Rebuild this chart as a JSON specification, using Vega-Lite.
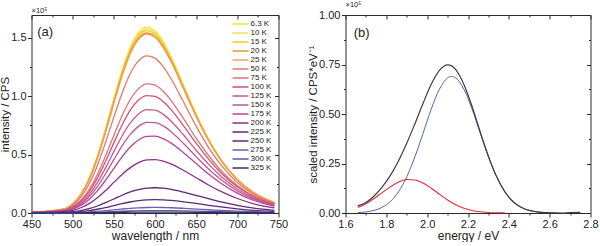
{
"$schema":"https://vega.github.io/schema/vega-lite/v6.json",
"padding":{"left":-1.5,"top":0,"right":0,"bottom":0},
"spacing":67,
"bounds":"flush",
"resolve":{"scale":{"color":"independent","strokeWidth":"independent"},"legend":{"color":"independent","strokeWidth":"independent"}},
"config":{
"font":"Liberation Sans",
"view":{"stroke":"#2a2a2a","strokeWidth":1},
"axis":{"grid":false,"domain":false,"tickColor":"#2a2a2a","tickWidth":1,"labelColor":"#222","titleColor":"#222","labelFontSize":11,"titleFontSize":11.5,"titleFontWeight":"normal","labelFont":"Liberation Sans","titleFont":"Liberation Sans","labelPadding":1.5,"titlePadding":0,"labelOverlap":false,"labelFlush":false},
"axisX":{"titlePadding":1,"titleFontSize":12},
"title":{"fontSize":7.5,"fontWeight":"normal","anchor":"start","offset":0.01,"color":"#222","font":"Liberation Sans"},
"legend":{"labelFont":"Liberation Sans"}
},
"datasets":{
"a":[
{"T":"6.3 K","w":450,"v":0.005},{"T":"6.3 K","w":490,"v":0.036},{"T":"6.3 K","w":500,"v":0.079},{"T":"6.3 K","w":510,"v":0.162},{"T":"6.3 K","w":520,"v":0.297},{"T":"6.3 K","w":530,"v":0.487},{"T":"6.3 K","w":540,"v":0.722},{"T":"6.3 K","w":550,"v":0.978},{"T":"6.3 K","w":560,"v":1.221},{"T":"6.3 K","w":570,"v":1.418},{"T":"6.3 K","w":580,"v":1.544},{"T":"6.3 K","w":590,"v":1.590},{"T":"6.3 K","w":600,"v":1.559},{"T":"6.3 K","w":610,"v":1.466},{"T":"6.3 K","w":620,"v":1.330},{"T":"6.3 K","w":635,"v":1.089},{"T":"6.3 K","w":650,"v":0.847},{"T":"6.3 K","w":665,"v":0.633},{"T":"6.3 K","w":680,"v":0.459},{"T":"6.3 K","w":700,"v":0.287},{"T":"6.3 K","w":720,"v":0.173},{"T":"6.3 K","w":745,"v":0.088},
{"T":"10 K","w":450,"v":0.005},{"T":"10 K","w":490,"v":0.035},{"T":"10 K","w":500,"v":0.078},{"T":"10 K","w":510,"v":0.160},{"T":"10 K","w":520,"v":0.294},{"T":"10 K","w":530,"v":0.482},{"T":"10 K","w":540,"v":0.715},{"T":"10 K","w":550,"v":0.968},{"T":"10 K","w":560,"v":1.209},{"T":"10 K","w":570,"v":1.404},{"T":"10 K","w":580,"v":1.529},{"T":"10 K","w":590,"v":1.575},{"T":"10 K","w":600,"v":1.545},{"T":"10 K","w":610,"v":1.453},{"T":"10 K","w":620,"v":1.319},{"T":"10 K","w":635,"v":1.081},{"T":"10 K","w":650,"v":0.841},{"T":"10 K","w":665,"v":0.630},{"T":"10 K","w":680,"v":0.457},{"T":"10 K","w":700,"v":0.286},{"T":"10 K","w":720,"v":0.173},{"T":"10 K","w":745,"v":0.088},
{"T":"15 K","w":450,"v":0.005},{"T":"15 K","w":490,"v":0.035},{"T":"15 K","w":500,"v":0.078},{"T":"15 K","w":510,"v":0.159},{"T":"15 K","w":520,"v":0.291},{"T":"15 K","w":530,"v":0.477},{"T":"15 K","w":540,"v":0.707},{"T":"15 K","w":550,"v":0.958},{"T":"15 K","w":560,"v":1.197},{"T":"15 K","w":570,"v":1.390},{"T":"15 K","w":580,"v":1.515},{"T":"15 K","w":590,"v":1.560},{"T":"15 K","w":600,"v":1.531},{"T":"15 K","w":610,"v":1.440},{"T":"15 K","w":620,"v":1.308},{"T":"15 K","w":635,"v":1.073},{"T":"15 K","w":650,"v":0.836},{"T":"15 K","w":665,"v":0.627},{"T":"15 K","w":680,"v":0.455},{"T":"15 K","w":700,"v":0.286},{"T":"15 K","w":720,"v":0.172},{"T":"15 K","w":745,"v":0.088},
{"T":"20 K","w":450,"v":0.005},{"T":"20 K","w":490,"v":0.034},{"T":"20 K","w":500,"v":0.077},{"T":"20 K","w":510,"v":0.157},{"T":"20 K","w":520,"v":0.286},{"T":"20 K","w":530,"v":0.470},{"T":"20 K","w":540,"v":0.697},{"T":"20 K","w":550,"v":0.945},{"T":"20 K","w":560,"v":1.181},{"T":"20 K","w":570,"v":1.371},{"T":"20 K","w":580,"v":1.495},{"T":"20 K","w":590,"v":1.540},{"T":"20 K","w":600,"v":1.512},{"T":"20 K","w":610,"v":1.424},{"T":"20 K","w":620,"v":1.294},{"T":"20 K","w":635,"v":1.063},{"T":"20 K","w":650,"v":0.829},{"T":"20 K","w":665,"v":0.622},{"T":"20 K","w":680,"v":0.452},{"T":"20 K","w":700,"v":0.284},{"T":"20 K","w":720,"v":0.172},{"T":"20 K","w":745,"v":0.088},
{"T":"25 K","w":450,"v":0.005},{"T":"25 K","w":490,"v":0.034},{"T":"25 K","w":500,"v":0.076},{"T":"25 K","w":510,"v":0.155},{"T":"25 K","w":520,"v":0.284},{"T":"25 K","w":530,"v":0.467},{"T":"25 K","w":540,"v":0.692},{"T":"25 K","w":550,"v":0.938},{"T":"25 K","w":560,"v":1.172},{"T":"25 K","w":570,"v":1.362},{"T":"25 K","w":580,"v":1.485},{"T":"25 K","w":590,"v":1.530},{"T":"25 K","w":600,"v":1.503},{"T":"25 K","w":610,"v":1.415},{"T":"25 K","w":620,"v":1.287},{"T":"25 K","w":635,"v":1.057},{"T":"25 K","w":650,"v":0.825},{"T":"25 K","w":665,"v":0.620},{"T":"25 K","w":680,"v":0.451},{"T":"25 K","w":700,"v":0.284},{"T":"25 K","w":720,"v":0.172},{"T":"25 K","w":745,"v":0.087},
{"T":"50 K","w":450,"v":0.005},{"T":"50 K","w":490,"v":0.030},{"T":"50 K","w":500,"v":0.067},{"T":"50 K","w":510,"v":0.136},{"T":"50 K","w":520,"v":0.248},{"T":"50 K","w":530,"v":0.407},{"T":"50 K","w":540,"v":0.605},{"T":"50 K","w":550,"v":0.820},{"T":"50 K","w":560,"v":1.025},{"T":"50 K","w":570,"v":1.193},{"T":"50 K","w":580,"v":1.302},{"T":"50 K","w":590,"v":1.345},{"T":"50 K","w":600,"v":1.325},{"T":"50 K","w":610,"v":1.252},{"T":"50 K","w":620,"v":1.142},{"T":"50 K","w":635,"v":0.945},{"T":"50 K","w":650,"v":0.743},{"T":"50 K","w":665,"v":0.562},{"T":"50 K","w":680,"v":0.412},{"T":"50 K","w":700,"v":0.261},{"T":"50 K","w":720,"v":0.159},{"T":"50 K","w":745,"v":0.082},
{"T":"75 K","w":450,"v":0.005},{"T":"75 K","w":490,"v":0.026},{"T":"75 K","w":500,"v":0.055},{"T":"75 K","w":510,"v":0.110},{"T":"75 K","w":520,"v":0.201},{"T":"75 K","w":530,"v":0.330},{"T":"75 K","w":540,"v":0.489},{"T":"75 K","w":550,"v":0.664},{"T":"75 K","w":560,"v":0.832},{"T":"75 K","w":570,"v":0.971},{"T":"75 K","w":580,"v":1.064},{"T":"75 K","w":590,"v":1.105},{"T":"75 K","w":600,"v":1.094},{"T":"75 K","w":610,"v":1.041},{"T":"75 K","w":620,"v":0.958},{"T":"75 K","w":635,"v":0.803},{"T":"75 K","w":650,"v":0.640},{"T":"75 K","w":665,"v":0.492},{"T":"75 K","w":680,"v":0.365},{"T":"75 K","w":700,"v":0.236},{"T":"75 K","w":720,"v":0.145},{"T":"75 K","w":745,"v":0.076},
{"T":"100 K","w":450,"v":0.005},{"T":"100 K","w":490,"v":0.023},{"T":"100 K","w":500,"v":0.050},{"T":"100 K","w":510,"v":0.100},{"T":"100 K","w":520,"v":0.182},{"T":"100 K","w":530,"v":0.298},{"T":"100 K","w":540,"v":0.442},{"T":"100 K","w":550,"v":0.600},{"T":"100 K","w":560,"v":0.753},{"T":"100 K","w":570,"v":0.880},{"T":"100 K","w":580,"v":0.966},{"T":"100 K","w":590,"v":1.005},{"T":"100 K","w":600,"v":0.998},{"T":"100 K","w":610,"v":0.953},{"T":"100 K","w":620,"v":0.880},{"T":"100 K","w":635,"v":0.743},{"T":"100 K","w":650,"v":0.597},{"T":"100 K","w":665,"v":0.461},{"T":"100 K","w":680,"v":0.345},{"T":"100 K","w":700,"v":0.224},{"T":"100 K","w":720,"v":0.139},{"T":"100 K","w":745,"v":0.073},
{"T":"125 K","w":450,"v":0.005},{"T":"125 K","w":490,"v":0.021},{"T":"125 K","w":500,"v":0.044},{"T":"125 K","w":510,"v":0.088},{"T":"125 K","w":520,"v":0.159},{"T":"125 K","w":530,"v":0.260},{"T":"125 K","w":540,"v":0.386},{"T":"125 K","w":550,"v":0.525},{"T":"125 K","w":560,"v":0.659},{"T":"125 K","w":570,"v":0.771},{"T":"125 K","w":580,"v":0.848},{"T":"125 K","w":590,"v":0.885},{"T":"125 K","w":600,"v":0.881},{"T":"125 K","w":610,"v":0.844},{"T":"125 K","w":620,"v":0.783},{"T":"125 K","w":635,"v":0.665},{"T":"125 K","w":650,"v":0.537},{"T":"125 K","w":665,"v":0.418},{"T":"125 K","w":680,"v":0.315},{"T":"125 K","w":700,"v":0.206},{"T":"125 K","w":720,"v":0.128},{"T":"125 K","w":745,"v":0.068},
{"T":"150 K","w":450,"v":0.005},{"T":"150 K","w":490,"v":0.019},{"T":"150 K","w":500,"v":0.039},{"T":"150 K","w":510,"v":0.077},{"T":"150 K","w":520,"v":0.139},{"T":"150 K","w":530,"v":0.226},{"T":"150 K","w":540,"v":0.336},{"T":"150 K","w":550,"v":0.456},{"T":"150 K","w":560,"v":0.574},{"T":"150 K","w":570,"v":0.672},{"T":"150 K","w":580,"v":0.741},{"T":"150 K","w":590,"v":0.775},{"T":"150 K","w":600,"v":0.774},{"T":"150 K","w":610,"v":0.745},{"T":"150 K","w":620,"v":0.693},{"T":"150 K","w":635,"v":0.592},{"T":"150 K","w":650,"v":0.482},{"T":"150 K","w":665,"v":0.377},{"T":"150 K","w":680,"v":0.286},{"T":"150 K","w":700,"v":0.188},{"T":"150 K","w":720,"v":0.118},{"T":"150 K","w":745,"v":0.063},
{"T":"175 K","w":450,"v":0.005},{"T":"175 K","w":490,"v":0.017},{"T":"175 K","w":500,"v":0.033},{"T":"175 K","w":510,"v":0.065},{"T":"175 K","w":520,"v":0.116},{"T":"175 K","w":530,"v":0.189},{"T":"175 K","w":540,"v":0.281},{"T":"175 K","w":550,"v":0.382},{"T":"175 K","w":560,"v":0.481},{"T":"175 K","w":570,"v":0.565},{"T":"175 K","w":580,"v":0.624},{"T":"175 K","w":590,"v":0.655},{"T":"175 K","w":600,"v":0.658},{"T":"175 K","w":610,"v":0.636},{"T":"175 K","w":620,"v":0.596},{"T":"175 K","w":635,"v":0.514},{"T":"175 K","w":650,"v":0.423},{"T":"175 K","w":665,"v":0.334},{"T":"175 K","w":680,"v":0.255},{"T":"175 K","w":700,"v":0.170},{"T":"175 K","w":720,"v":0.107},{"T":"175 K","w":745,"v":0.058},
{"T":"200 K","w":450,"v":0.004},{"T":"200 K","w":490,"v":0.012},{"T":"200 K","w":500,"v":0.023},{"T":"200 K","w":510,"v":0.045},{"T":"200 K","w":520,"v":0.080},{"T":"200 K","w":530,"v":0.130},{"T":"200 K","w":540,"v":0.192},{"T":"200 K","w":550,"v":0.262},{"T":"200 K","w":560,"v":0.330},{"T":"200 K","w":570,"v":0.388},{"T":"200 K","w":580,"v":0.431},{"T":"200 K","w":590,"v":0.454},{"T":"200 K","w":600,"v":0.457},{"T":"200 K","w":610,"v":0.444},{"T":"200 K","w":620,"v":0.418},{"T":"200 K","w":635,"v":0.364},{"T":"200 K","w":650,"v":0.302},{"T":"200 K","w":665,"v":0.240},{"T":"200 K","w":680,"v":0.185},{"T":"200 K","w":700,"v":0.124},{"T":"200 K","w":720,"v":0.079},{"T":"200 K","w":745,"v":0.043},
{"T":"225 K","w":450,"v":0.003},{"T":"225 K","w":490,"v":0.007},{"T":"225 K","w":500,"v":0.012},{"T":"225 K","w":510,"v":0.021},{"T":"225 K","w":520,"v":0.037},{"T":"225 K","w":530,"v":0.060},{"T":"225 K","w":540,"v":0.089},{"T":"225 K","w":550,"v":0.120},{"T":"225 K","w":560,"v":0.152},{"T":"225 K","w":570,"v":0.180},{"T":"225 K","w":580,"v":0.200},{"T":"225 K","w":590,"v":0.213},{"T":"225 K","w":600,"v":0.216},{"T":"225 K","w":610,"v":0.212},{"T":"225 K","w":620,"v":0.202},{"T":"225 K","w":635,"v":0.178},{"T":"225 K","w":650,"v":0.150},{"T":"225 K","w":665,"v":0.122},{"T":"225 K","w":680,"v":0.095},{"T":"225 K","w":700,"v":0.065},{"T":"225 K","w":720,"v":0.042},{"T":"225 K","w":745,"v":0.023},
{"T":"250 K","w":450,"v":0.002},{"T":"250 K","w":490,"v":0.004},{"T":"250 K","w":500,"v":0.007},{"T":"250 K","w":510,"v":0.011},{"T":"250 K","w":520,"v":0.020},{"T":"250 K","w":530,"v":0.032},{"T":"250 K","w":540,"v":0.046},{"T":"250 K","w":550,"v":0.063},{"T":"250 K","w":560,"v":0.080},{"T":"250 K","w":570,"v":0.094},{"T":"250 K","w":580,"v":0.105},{"T":"250 K","w":590,"v":0.112},{"T":"250 K","w":600,"v":0.114},{"T":"250 K","w":610,"v":0.113},{"T":"250 K","w":620,"v":0.108},{"T":"250 K","w":635,"v":0.096},{"T":"250 K","w":650,"v":0.082},{"T":"250 K","w":665,"v":0.066},{"T":"250 K","w":680,"v":0.052},{"T":"250 K","w":700,"v":0.036},{"T":"250 K","w":720,"v":0.023},{"T":"250 K","w":745,"v":0.013},
{"T":"275 K","w":450,"v":0.002},{"T":"275 K","w":490,"v":0.003},{"T":"275 K","w":500,"v":0.004},{"T":"275 K","w":510,"v":0.006},{"T":"275 K","w":520,"v":0.009},{"T":"275 K","w":530,"v":0.014},{"T":"275 K","w":540,"v":0.020},{"T":"275 K","w":550,"v":0.027},{"T":"275 K","w":560,"v":0.034},{"T":"275 K","w":570,"v":0.040},{"T":"275 K","w":580,"v":0.044},{"T":"275 K","w":590,"v":0.047},{"T":"275 K","w":600,"v":0.048},{"T":"275 K","w":610,"v":0.047},{"T":"275 K","w":620,"v":0.045},{"T":"275 K","w":635,"v":0.040},{"T":"275 K","w":650,"v":0.034},{"T":"275 K","w":665,"v":0.028},{"T":"275 K","w":680,"v":0.022},{"T":"275 K","w":700,"v":0.016},{"T":"275 K","w":720,"v":0.011},{"T":"275 K","w":745,"v":0.006},
{"T":"300 K","w":450,"v":0.001},{"T":"300 K","w":490,"v":0.001},{"T":"300 K","w":500,"v":0.002},{"T":"300 K","w":510,"v":0.003},{"T":"300 K","w":520,"v":0.004},{"T":"300 K","w":530,"v":0.006},{"T":"300 K","w":540,"v":0.009},{"T":"300 K","w":550,"v":0.012},{"T":"300 K","w":560,"v":0.015},{"T":"300 K","w":570,"v":0.017},{"T":"300 K","w":580,"v":0.019},{"T":"300 K","w":590,"v":0.021},{"T":"300 K","w":600,"v":0.021},{"T":"300 K","w":610,"v":0.021},{"T":"300 K","w":620,"v":0.020},{"T":"300 K","w":635,"v":0.018},{"T":"300 K","w":650,"v":0.016},{"T":"300 K","w":665,"v":0.013},{"T":"300 K","w":680,"v":0.011},{"T":"300 K","w":700,"v":0.008},{"T":"300 K","w":720,"v":0.006},{"T":"300 K","w":745,"v":0.003},
{"T":"325 K","w":450,"v":0.000},{"T":"325 K","w":490,"v":0.001},{"T":"325 K","w":500,"v":0.001},{"T":"325 K","w":510,"v":0.001},{"T":"325 K","w":520,"v":0.002},{"T":"325 K","w":530,"v":0.002},{"T":"325 K","w":540,"v":0.003},{"T":"325 K","w":550,"v":0.005},{"T":"325 K","w":560,"v":0.006},{"T":"325 K","w":570,"v":0.007},{"T":"325 K","w":580,"v":0.008},{"T":"325 K","w":590,"v":0.008},{"T":"325 K","w":600,"v":0.008},{"T":"325 K","w":610,"v":0.008},{"T":"325 K","w":620,"v":0.008},{"T":"325 K","w":635,"v":0.007},{"T":"325 K","w":650,"v":0.006},{"T":"325 K","w":665,"v":0.005},{"T":"325 K","w":680,"v":0.004},{"T":"325 K","w":700,"v":0.003},{"T":"325 K","w":720,"v":0.002},{"T":"325 K","w":745,"v":0.001}
],
"b":[
{"s":"blue","e":1.66,"v":0.002},{"s":"blue","e":1.70,"v":0.0055},{"s":"blue","e":1.74,"v":0.013},{"s":"blue","e":1.78,"v":0.029},{"s":"blue","e":1.82,"v":0.058},{"s":"blue","e":1.86,"v":0.108},{"s":"blue","e":1.90,"v":0.183},{"s":"blue","e":1.94,"v":0.284},{"s":"blue","e":1.98,"v":0.403},{"s":"blue","e":2.02,"v":0.525},{"s":"blue","e":2.06,"v":0.625},{"s":"blue","e":2.10,"v":0.682},{"s":"blue","e":2.12,"v":0.690},{"s":"blue","e":2.14,"v":0.682},{"s":"blue","e":2.18,"v":0.625},{"s":"blue","e":2.22,"v":0.525},{"s":"blue","e":2.26,"v":0.403},{"s":"blue","e":2.30,"v":0.284},{"s":"blue","e":2.34,"v":0.183},{"s":"blue","e":2.38,"v":0.108},{"s":"blue","e":2.42,"v":0.058},{"s":"blue","e":2.46,"v":0.029},{"s":"blue","e":2.50,"v":0.013},{"s":"blue","e":2.54,"v":0.0055},{"s":"blue","e":2.58,"v":0.002},{"s":"blue","e":2.62,"v":0.0007},
{"s":"red","e":1.66,"v":0.028},{"s":"red","e":1.70,"v":0.047},{"s":"red","e":1.74,"v":0.073},{"s":"red","e":1.78,"v":0.103},{"s":"red","e":1.82,"v":0.132},{"s":"red","e":1.86,"v":0.156},{"s":"red","e":1.90,"v":0.169},{"s":"red","e":1.94,"v":0.167},{"s":"red","e":1.98,"v":0.151},{"s":"red","e":2.02,"v":0.125},{"s":"red","e":2.06,"v":0.095},{"s":"red","e":2.10,"v":0.066},{"s":"red","e":2.14,"v":0.042},{"s":"red","e":2.18,"v":0.024},{"s":"red","e":2.22,"v":0.013},{"s":"red","e":2.26,"v":0.0063},{"s":"red","e":2.30,"v":0.0028},{"s":"red","e":2.34,"v":0.0011},{"s":"red","e":2.38,"v":0.0004},
{"s":"sum","e":1.66,"v":0.036},{"s":"sum","e":1.70,"v":0.053},{"s":"sum","e":1.74,"v":0.086},{"s":"sum","e":1.78,"v":0.132},{"s":"sum","e":1.82,"v":0.190},{"s":"sum","e":1.86,"v":0.264},{"s":"sum","e":1.90,"v":0.352},{"s":"sum","e":1.94,"v":0.451},{"s":"sum","e":1.98,"v":0.554},{"s":"sum","e":2.02,"v":0.650},{"s":"sum","e":2.06,"v":0.720},{"s":"sum","e":2.10,"v":0.748},{"s":"sum","e":2.12,"v":0.743},{"s":"sum","e":2.14,"v":0.724},{"s":"sum","e":2.18,"v":0.649},{"s":"sum","e":2.22,"v":0.538},{"s":"sum","e":2.26,"v":0.409},{"s":"sum","e":2.30,"v":0.287},{"s":"sum","e":2.34,"v":0.184},{"s":"sum","e":2.38,"v":0.108},{"s":"sum","e":2.42,"v":0.058},{"s":"sum","e":2.46,"v":0.029},{"s":"sum","e":2.50,"v":0.013},{"s":"sum","e":2.54,"v":0.0055},{"s":"sum","e":2.58,"v":0.002},{"s":"sum","e":2.62,"v":0.001},{"s":"sum","e":2.66,"v":0.0},{"s":"sum","e":2.70,"v":0.002},{"s":"sum","e":2.75,"v":0.003}
]
},
"hconcat":[
{
"width":247,"height":198,
"title":{"text":"×10⁵","anchor":"start","frame":"group"},
"resolve":{"axis":{"x":"independent","y":"independent"}},
"layer":[
{"data":{"name":"a"},
"mark":{"type":"line","strokeWidth":1.3,"interpolate":"monotone"},
"encoding":{
"x":{"field":"w","type":"quantitative","scale":{"domain":[450,750],"nice":false,"zero":false},
"axis":{"title":"wavelength / nm","values":[450,475,500,525,550,575,600,625,650,675,700,725,750],"labelExpr":"datum.value % 50 === 0 ? datum.label : ''","tickSize":{"condition":{"test":"datum.value % 50 === 0","value":4},"value":2}}},
"y":{"field":"v","type":"quantitative","scale":{"domain":[0,1.694],"nice":false,"zero":false},
"axis":{"title":"intensity / CPS","values":[0,0.25,0.5,0.75,1,1.25,1.5],"labelExpr":"abs(datum.value*2 - round(datum.value*2)) < 0.000001 ? format(datum.value, '.1f') : ''","tickSize":{"condition":{"test":"abs(datum.value*2 - round(datum.value*2)) < 0.000001","value":4},"value":2}}},
"color":{"field":"T","type":"nominal",
"scale":{"domain":["6.3 K","10 K","15 K","20 K","25 K","50 K","75 K","100 K","125 K","150 K","175 K","200 K","225 K","250 K","275 K","300 K","325 K"],
"range":["#f2e52e","#f6dc5a","#eccb2a","#e8962a","#eea05a","#e4786a","#e0707a","#d45070","#cc5a84","#b85a92","#b4449c","#8a2e86","#662274","#582a76","#7a58a6","#5c5aa4","#2e3070"]},
"legend":{"title":null,"orient":"none","legendX":200,"legendY":4.5,"symbolType":"stroke","symbolSize":256,"symbolStrokeWidth":1.5,"labelFontSize":8,"labelColor":"#222","labelOffset":1,"rowPadding":0,"clipHeight":9,"padding":0}}
}},
{"data":{"values":[{"x":457,"y":1.55,"t":"(a)"}]},
"mark":{"type":"text","align":"left","baseline":"middle","fontSize":13,"font":"Liberation Sans","color":"#222"},
"encoding":{
"x":{"field":"x","type":"quantitative","scale":{"domain":[450,750],"nice":false,"zero":false},
"axis":{"orient":"top","title":null,"labels":false,"values":[450,475,500,525,550,575,600,625,650,675,700,725,750],"tickSize":{"condition":{"test":"datum.value % 50 === 0","value":-4},"value":-2}}},
"y":{"field":"y","type":"quantitative","scale":{"domain":[0,1.694],"nice":false,"zero":false},
"axis":{"orient":"right","title":null,"labels":false,"values":[0,0.25,0.5,0.75,1,1.25,1.5],"tickSize":{"condition":{"test":"abs(datum.value*2 - round(datum.value*2)) < 0.000001","value":-4},"value":-2}}},
"text":{"field":"t"}
}}
]
},
{
"width":245,"height":198,
"title":{"text":"×10⁵","anchor":"start","frame":"group"},
"resolve":{"axis":{"x":"independent","y":"independent"}},
"layer":[
{"data":{"name":"b"},
"mark":{"type":"line","interpolate":"monotone"},
"encoding":{
"x":{"field":"e","type":"quantitative","scale":{"domain":[1.6,2.8],"nice":false,"zero":false},
"axis":{"title":"energy / eV","values":[1.6,1.7,1.8,1.9,2.0,2.1,2.2,2.3,2.4,2.5,2.6,2.7,2.8],"labelExpr":"abs(datum.value*5 - round(datum.value*5)) < 0.000001 ? format(datum.value, '.1f') : ''","tickSize":{"condition":{"test":"abs(datum.value*5 - round(datum.value*5)) < 0.000001","value":4},"value":2}}},
"y":{"field":"v","type":"quantitative","scale":{"domain":[0,1],"nice":false,"zero":false},
"axis":{"title":"scaled intensity / CPS*eV⁻¹","values":[0,0.125,0.25,0.375,0.5,0.625,0.75,0.875,1],"labelExpr":"abs(datum.value*4 - round(datum.value*4)) < 0.000001 ? format(datum.value, '.2f') : ''","tickSize":{"condition":{"test":"abs(datum.value*4 - round(datum.value*4)) < 0.000001","value":4},"value":2}}},
"color":{"field":"s","type":"nominal","scale":{"domain":["blue","red","sum"],"range":["#4f68b0","#e02a3a","#3d3d3d"]},"legend":null},
"strokeWidth":{"field":"s","type":"nominal","scale":{"domain":["blue","red","sum"],"range":[1,1.2,2.1]},"legend":null}
}},
{"data":{"values":[{"x":1.64,"y":0.91,"t":"(b)"}]},
"mark":{"type":"text","align":"left","baseline":"middle","fontSize":13,"font":"Liberation Sans","color":"#222"},
"encoding":{
"x":{"field":"x","type":"quantitative","scale":{"domain":[1.6,2.8],"nice":false,"zero":false},
"axis":{"orient":"top","title":null,"labels":false,"values":[1.6,1.7,1.8,1.9,2.0,2.1,2.2,2.3,2.4,2.5,2.6,2.7,2.8],"tickSize":{"condition":{"test":"abs(datum.value*5 - round(datum.value*5)) < 0.000001","value":-4},"value":-2}}},
"y":{"field":"y","type":"quantitative","scale":{"domain":[0,1],"nice":false,"zero":false},
"axis":{"orient":"right","title":null,"labels":false,"values":[0,0.125,0.25,0.375,0.5,0.625,0.75,0.875,1],"tickSize":{"condition":{"test":"abs(datum.value*4 - round(datum.value*4)) < 0.000001","value":-4},"value":-2}}},
"text":{"field":"t"}
}}
]
}
]
}
